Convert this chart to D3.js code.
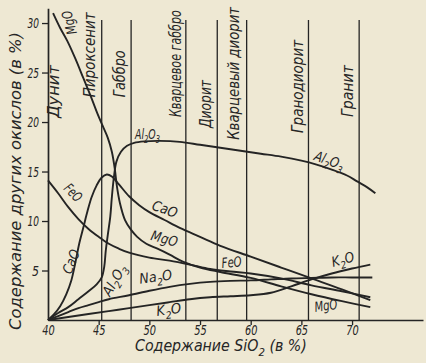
<!DOCTYPE html>
<html>
<head>
<meta charset="utf-8">
<script src="https://cdnjs.cloudflare.com/ajax/libs/d3/7.8.5/d3.min.js"></script>
<style>
    html, body { margin: 0; padding: 0; background: #eee8d3; }
    svg { display: block; }
    text {
        font-family: "Liberation Sans Narrow", "DejaVu Sans Condensed", "Roboto Condensed", "DejaVu Sans", sans-serif;
        font-style: italic;
        fill: #262626;
    }
</style>
</head>
<body>
<div id="chart"></div>
<script>
// axis ticks
const xTicks = [40, 45, 50, 55, 60, 65, 70];
const yTicks = [5, 10, 15, 20, 25, 30];

// rock types, each ends at the boundary line after it (SiO2 %)
const rocks = ['Дунит', 'Пироксенит', 'Габбро', 'Кварцевое габбро', 'Диорит', 'Кварцевый диорит', 'Гранодиорит', 'Гранит'];
const rockBounds = [45.3, 48.2, 53.6, 56.7, 59.6, 65.7, 70.7];

// oxide curves: [SiO2 %, oxide %]
const mgo = [[40.5, 31.0], [41.2, 29.5], [41.9, 28.2], [42.7, 26.4], [43.5, 24.4], [44.3, 22.4], [44.9, 20.8], [45.4, 19.6],
    [45.9, 18.4], [46.3, 17.0], [46.6, 15.2], [46.8, 13.5], [47.1, 11.8], [47.6, 10.1], [48.2, 9.1], [48.8, 8.4], [49.7, 7.7],
    [50.8, 7.2], [52, 6.6], [53.3, 5.9], [55, 5.3], [57, 4.85], [60, 4.25], [63, 3.4], [66, 2.6], [69, 1.9], [71.8, 1.3]];
const feo = [[40, 14.1], [41, 12.8], [42, 11.4], [43, 10.2], [44, 9.2], [45, 8.4], [46, 7.7], [47, 7.2], [48, 6.8], [50, 6.3],
    [52, 6.0], [54, 5.6], [56, 5.15], [58, 4.9], [60, 4.7], [63, 4.2], [66, 3.5], [69, 2.9], [71.8, 2.3]];
const cao = [[40, 0], [40.6, 0.6], [41.2, 1.4], [41.8, 2.6], [42.3, 4.0], [42.7, 5.8], [43.1, 7.8], [43.5, 9.4], [43.9, 11.0],
    [44.3, 12.4], [44.8, 13.6], [45.3, 14.4], [45.8, 14.7], [46.3, 14.5], [47, 13.7], [48, 12.5], [49, 11.6], [50, 10.9],
    [51.5, 10.1], [53, 9.3], [55, 8.4], [57, 7.5], [60, 6.4], [63, 5.3], [66, 4.2], [69, 3.1], [71.8, 2.0]];
const al2o3 = [[40, 0], [41, 0.7], [42, 1.3], [43, 2.1], [44, 2.9], [44.8, 3.6], [45.3, 4.3], [45.55, 5.4], [45.7, 7.0],
    [45.9, 8.6], [46.15, 10.5], [46.3, 12.4], [46.5, 14.4], [46.75, 16.0], [47.2, 17.0], [47.8, 17.6], [48.5, 17.9],
    [49.5, 18.05], [51, 18.1], [53, 18.0], [55, 17.7], [57, 17.4], [59, 17.1], [61, 16.8], [63, 16.5], [65, 16.1],
    [66.5, 15.7], [68, 15.2], [69.5, 14.6], [70.5, 14.0], [71.5, 13.4], [72.3, 12.8]];
const na2o = [[40, 0], [41, 0.4], [42, 0.8], [43, 1.2], [44, 1.5], [45, 1.8], [46, 2.1], [48, 2.5], [50, 2.95], [52, 3.35],
    [54, 3.65], [56, 3.85], [58, 3.95], [60, 4.0], [62, 4.1], [64, 4.2], [66, 4.25], [68, 4.3], [70, 4.3], [72, 4.3]];
const k2o = [[40, 0], [42, 0.3], [44, 0.6], [46, 0.9], [48, 1.2], [50, 1.5], [52, 1.8], [54, 2.1], [56, 2.3], [58, 2.4],
    [60, 2.5], [62, 2.75], [64, 3.4], [66, 4.1], [68, 4.7], [70, 5.2], [71.8, 5.6]];

const curves = [mgo, feo, cao, al2o3, na2o, k2o];

// ---- layout (not data) ----
const width = 426, height = 363;

// label anchors in data units, drawn length
const rockLabelAt = [[41.1, 20.4, 53], [44.65, 22.5, 85], [47.6, 22.5, 47], [53.1, 20.5, 107],
    [56.1, 19.4, 48], [58.85, 18.2, 133], [65.15, 18.9, 93], [70.1, 20.5, 52]];
// name, anchor (data units), rotation, drawn length
const oxideLabels = [
    ['MgO', 42.86, 29.0, -105, 24],
    ['Al2O3', 48.59, 18.3, 0, 25],
    ['Al2O3', 66.16, 16.2, 20, 31],
    ['FeO', 41.48, 13.2, 45, 19],
    ['CaO', 42.27, 4.55, -68, 25],
    ['Al2O3', 46.12, 2.3, -60, 34],
    ['CaO', 50.17, 11.2, 20, 26],
    ['MgO', 50.07, 8.1, 15, 27],
    ['Na2O', 49.08, 3.65, -8, 33],
    ['K2O', 50.76, 0.4, -8, 25],
    ['FeO', 57.18, 5.25, -5, 20],
    ['K2O', 68.13, 5.35, -15, 23],
    ['MgO', 66.36, 0.8, -8, 23]
];

const ink = '#242424';

const x = d3.scaleLinear().domain([40, 77]).range([48, 423]);
const y = d3.scaleLinear().domain([0, 31.5]).range([320, 8.2]);

const svg = d3.select('#chart')
    .append('svg')
    .attr('width', width)
    .attr('height', height);

// writes "Al2O3" style text with subscript digits
function formula(sel, str, size) {
    let sub = false;
    str.split(/(\d+)/).filter(s => s.length).forEach(part => {
        if (/^\d+$/.test(part)) {
            sel.append('tspan').attr('font-size', size * 0.72).attr('dy', size * 0.3).text(part);
            sub = true;
        } else {
            sel.append('tspan').attr('dy', sub ? -size * 0.3 : 0).text(part);
            sub = false;
        }
    });
}

// squeeze a text along its baseline to the printed length (the print uses a narrow face)
function fit(t, base, len) {
    const natural = t.node().getComputedTextLength();
    t.attr('transform', `${base} scale(${len / natural},1)`);
}

// rock boundary lines
svg.append('g')
    .selectAll('line')
    .data(rockBounds)
    .join('line')
    .attr('x1', d => x(d)).attr('x2', d => x(d))
    .attr('y1', y(0)).attr('y2', y(30.3))
    .attr('stroke', ink)
    .attr('stroke-width', 1.3);

// rock names
const rockG = svg.append('g');
rocks.forEach((name, i) => {
    const p = rockLabelAt[i];
    const t = rockG.append('text').attr('font-size', 15).text(name);
    fit(t, `translate(${x(p[0])},${y(p[1])}) rotate(-90)`, p[2]);
});

// oxide curves
const line = d3.line()
    .x(d => x(d[0]))
    .y(d => y(d[1]))
    .curve(d3.curveCatmullRom.alpha(0.5));

svg.append('g')
    .selectAll('path')
    .data(curves)
    .join('path')
    .attr('d', line)
    .attr('fill', 'none')
    .attr('stroke', ink)
    .attr('stroke-width', 1.9);

// oxide labels
oxideLabels.forEach(l => {
    const t = svg.append('text').attr('font-size', 14);
    formula(t, l[0], 14);
    fit(t, `translate(${x(l[1])},${y(l[2])}) rotate(${l[3]})`, l[4]);
});

// axes
const xAxis = d3.axisBottom(x).tickValues(xTicks).tickSize(5).tickSizeOuter(0).tickPadding(0);
const yAxis = d3.axisLeft(y).tickValues(yTicks).tickSize(6).tickSizeOuter(0).tickPadding(3);

const gx = svg.append('g')
    .attr('transform', `translate(0,${y(0)})`)
    .call(xAxis);
const gy = svg.append('g')
    .attr('transform', `translate(${x(40)},0)`)
    .call(yAxis);

[gx, gy].forEach(g => {
    g.select('.domain').attr('stroke', ink).attr('stroke-width', 1.7);
    g.selectAll('.tick line').attr('stroke', ink).attr('stroke-width', 1.3);
    g.selectAll('.tick text')
        .attr('fill', ink)
        .attr('font-size', 14)
        .attr('font-family', null);
});
gx.select('.tick line').remove();

// narrow the tick labels like the printed ones
gx.selectAll('.tick text').each(function() {
    fit(d3.select(this), '', 12.5);
});
gy.selectAll('.tick text').each(function(d) {
    const t = d3.select(this);
    const tx = +t.attr('x');
    t.attr('x', 0);
    fit(t, `translate(${tx},0)`, d >= 10 ? 11.5 : 7);
});

// axis titles
const xt = svg.append('text').attr('font-size', 15);
formula(xt, 'Содержание SiO2 (в %)', 15);
fit(xt, 'translate(135,351)', 172);

const yt = svg.append('text')
    .attr('text-anchor', 'middle')
    .attr('font-size', 15)
    .text('Содержание других окислов (в %)');
fit(yt, 'translate(21,181) rotate(-90)', 298);
</script>
</body>
</html>
